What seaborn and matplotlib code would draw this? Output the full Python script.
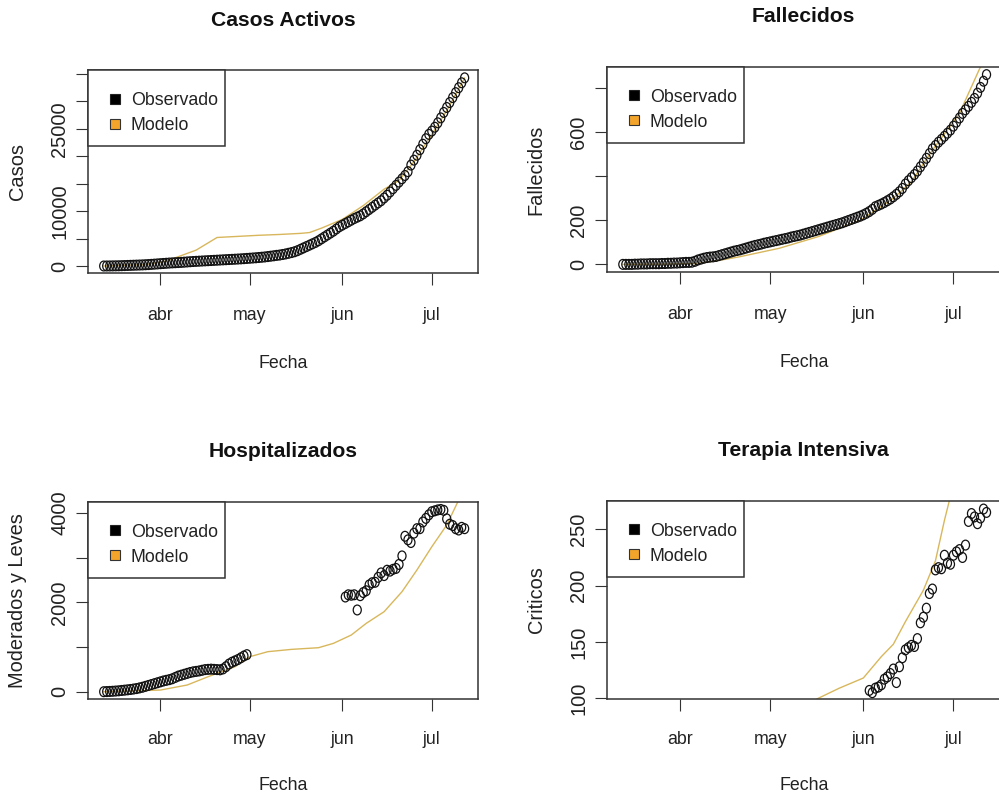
import matplotlib
matplotlib.use("Agg")
import numpy as np
import pandas as pd
import matplotlib.pyplot as plt
import seaborn as sns
from matplotlib.path import Path
from matplotlib.transforms import Affine2D
from matplotlib.patches import Patch, Rectangle

# ---------------- data ----------------
obs_start, obs_end = "2020-03-13", "2020-07-12"
month_ticks = ["2020-04-01", "2020-05-01", "2020-06-01", "2020-07-01"]
month_labels = ["abr", "may", "jun", "jul"]
legend_labels = ["Observado", "Modelo"]

casos_obs = [
    0, 5, 10, 20, 30, 40, 60, 80,
    100, 120, 140, 160, 180, 200, 230, 260, 300, 340, 380,
    420, 460, 500, 540, 570, 600, 630, 660, 700, 740,
    780, 820, 850, 880, 910, 940, 970, 1000, 1030, 1060,
    1090, 1120, 1150, 1180, 1210, 1240, 1270, 1300, 1340, 1380,
    1420, 1460, 1500, 1550, 1600, 1650, 1720, 1790, 1860, 1940,
    2000, 2100, 2200, 2320, 2450, 2600, 2800, 3050, 3300, 3550,
    3800, 4050, 4300, 4600, 4950, 5300, 5650, 6000, 6350, 6750, 7150,
    7450, 7750, 8050, 8350, 8650, 8900, 9150, 9500, 9900, 10300,
    10700, 11100, 11500, 11900, 12400, 12900, 13500, 14100, 14700, 15300,
    15900, 16500, 17200, 18400, 19300, 20200, 21200, 22200, 23200, 24000,
    24600, 25300, 26100, 27000, 28000, 28900, 29800, 30700, 31600, 32500, 33400, 34300,
]
casos_mod_dates = ["2020-03-13", "2020-03-27", "2020-04-03", "2020-04-06", "2020-04-13",
                   "2020-04-20", "2020-04-27", "2020-05-04", "2020-05-11", "2020-05-18",
                   "2020-05-21", "2020-05-25", "2020-06-01", "2020-06-08", "2020-06-15",
                   "2020-06-20", "2020-06-25", "2020-07-01", "2020-07-06", "2020-07-12"]
casos_mod = [0, 250, 900, 1500, 2900, 5200, 5400, 5600, 5750, 5950,
             6100, 6900, 8500, 11000, 14000, 15600, 19000, 24000, 28300, 34300]

fall_obs = [
    0, 0, 0, 0, 1, 1, 2, 2,
    2, 3, 3, 3, 3, 4, 4, 5, 5, 6, 6,
    7, 8, 9, 9, 10, 14, 20, 24, 28, 31,
    33, 34, 36, 40, 44, 48, 52, 56, 60, 63,
    66, 70, 74, 78, 82, 86, 89, 92, 96, 99,
    102, 105, 108, 111, 114, 117, 120, 124, 127, 130,
    133, 137, 141, 145, 149, 153, 157, 161, 165, 169,
    173, 177, 181, 185, 189, 194, 199, 204, 209, 214, 219,
    225, 232, 240, 250, 262, 268, 274, 281, 289, 297,
    307, 318, 330, 345, 365, 380, 394, 408, 424, 443,
    462, 482, 503, 525, 540, 555, 568, 582, 596, 610,
    628, 646, 665, 686, 702, 718, 736, 754, 778, 804, 832, 862,
]
fall_mod_dates = ["2020-03-13", "2020-03-27", "2020-04-07", "2020-04-14", "2020-04-21",
                  "2020-05-04", "2020-05-17", "2020-05-31", "2020-06-05", "2020-06-11",
                  "2020-06-17", "2020-06-24", "2020-07-03", "2020-07-10", "2020-07-12"]
fall_mod = [0, 1, 4, 18, 35, 73, 126, 201, 245, 300, 375, 519, 686, 898, 960]

hosp_start1, hosp_end1 = "2020-03-13", "2020-04-30"
hosp_obs1 = [
    0, 3, 6, 10, 15, 20, 28, 35,
    42, 50, 60, 70, 85, 100, 120, 140, 160, 180, 200,
    220, 240, 255, 270, 290, 320, 350, 370, 390, 410,
    430, 445, 455, 465, 480, 495, 500, 505, 500, 495,
    490, 510, 560, 620, 660, 690, 720, 760, 800, 830,
]
hosp_start2, hosp_end2 = "2020-06-02", "2020-07-12"
hosp_obs2 = [
    2120, 2170, 2160, 2170, 1830, 2150, 2220, 2260, 2390, 2440,
    2450, 2560, 2660, 2600, 2720, 2700, 2740, 2760, 2850, 3040,
    3480, 3400, 3340, 3550, 3650, 3650, 3800, 3880, 3960, 4030,
    4050, 4070, 4080, 4060, 3870, 3750, 3720, 3650, 3620, 3680, 3650,
]
hosp_mod_dates = ["2020-03-13", "2020-04-01", "2020-04-10", "2020-04-17", "2020-04-26",
                  "2020-05-01", "2020-05-07", "2020-05-15", "2020-05-24", "2020-05-29",
                  "2020-06-04", "2020-06-09", "2020-06-15", "2020-06-21", "2020-06-26",
                  "2020-07-01", "2020-07-06", "2020-07-10", "2020-07-12"]
hosp_mod = [0, 37, 150, 336, 560, 784, 896, 948, 985, 1082,
            1269, 1530, 1791, 2239, 2724, 3246, 3731, 4291, 4600]

uci_start, uci_end = "2020-06-03", "2020-07-12"
uci_obs = [
    107, 105, 109, 110, 112, 117, 119, 122, 126, 114,
    128, 136, 143, 145, 147, 146, 153, 167, 172, 180,
    193, 197, 214, 216, 215, 227, 220, 219, 227, 230,
    232, 225, 236, 257, 264, 261, 255, 260, 268, 265,
]
uci_mod_dates = ["2020-05-10", "2020-05-17", "2020-05-24", "2020-06-01", "2020-06-07",
                 "2020-06-11", "2020-06-15", "2020-06-21", "2020-06-25", "2020-06-28",
                 "2020-07-01", "2020-07-04"]
uci_mod = [90, 100, 109, 118, 137, 148, 168, 196, 222, 258, 290, 330]

# ---------------- style ----------------
sns.set_theme(style="white")
REG = ["Liberation Sans", "DejaVu Sans"]
plt.rcParams["font.family"] = REG
TXT = "#222222"
SPINE = "#333333"
LINE_C = "#D8B75C"
ORANGE = "#F2A52A"
FS_H = 12.8     # horizontal text
FS_V = 14.4     # rotated (vertical) text
FS_T = 15.2     # titles

W, H = 999, 800
fig = plt.figure(figsize=(W / 100, H / 100), dpi=100)
fig.patch.set_facecolor("white")

ell = Affine2D().scale(0.82, 1.0).transform_path(Path.unit_circle())
xlim = (pd.Timestamp("2020-03-07 20:00"), pd.Timestamp("2020-07-16 14:00"))


def panel(rect, title, ylabel, ox, oy, mx, my, ylim, yticks, ylabs,
          xpad=16.0, xlab_off=90):
    l, t, r, b = rect
    wpx, hpx = r - l, b - t
    ax = fig.add_axes([l / W, 1 - b / H, wpx / W, hpx / H])
    sns.lineplot(x=mx, y=my, ax=ax, color=LINE_C, lw=1.0, legend=False,
                 sort=False, estimator=None, zorder=2)
    sns.scatterplot(x=ox, y=oy, ax=ax, marker=ell, s=50, legend=False, zorder=3)
    coll = ax.collections[-1]
    coll.set_facecolor("none")
    coll.set_edgecolor("#111111")
    coll.set_linewidth(0.9)

    ax.set_xlim(*xlim)
    ax.set_ylim(*ylim)
    ax.set_xticks(pd.to_datetime(month_ticks))
    ax.set_xticklabels(month_labels, fontsize=FS_H, color=TXT)
    ax.set_yticks(yticks)
    ax.set_yticklabels(ylabs, fontsize=FS_V, color=TXT, rotation=90, va="center")
    ax.tick_params(axis="x", direction="out", length=8.6, width=0.8, color=SPINE,
                   pad=xpad, bottom=True, top=False)
    ax.tick_params(axis="y", direction="out", length=8.6, width=0.8, color=SPINE,
                   pad=5.2, left=True, right=False)
    for s in ax.spines.values():
        s.set_visible(True)
        s.set_color(SPINE)
        s.set_linewidth(1.1)
    ax.set_facecolor("white")
    ax.grid(False)

    ax.set_title(title, fontsize=FS_T, fontweight="bold",
                 color="#111111", y=1 + 50 / hpx, va="center", pad=0)
    ax.set_xlabel("Fecha", fontsize=FS_H, color=TXT, va="center")
    ax.xaxis.set_label_coords(0.5, -xlab_off / hpx)
    ax.set_ylabel(ylabel, fontsize=FS_V, color=TXT, va="center")
    ax.yaxis.set_label_coords(-71 / wpx, 0.5)

    # legend box (R style, anchored to top-left corner)
    ax.add_patch(Rectangle((0, 1 - 76 / hpx), 137 / wpx, 76 / hpx,
                           transform=ax.transAxes, facecolor="white",
                           edgecolor=SPINE, lw=1.1, zorder=4, clip_on=False))
    handles = [Patch(facecolor="black", edgecolor="#222222", lw=0.8),
               Patch(facecolor=ORANGE, edgecolor="#333333", lw=0.8)]
    fs_px = FS_H * 100 / 72
    leg = ax.legend(handles, legend_labels, loc="upper left",
                    bbox_to_anchor=(21.5 / wpx, 1 - 22 / hpx),
                    bbox_transform=ax.transAxes, frameon=False, borderpad=0,
                    borderaxespad=0, handlelength=10 / fs_px, handleheight=0.49,
                    handletextpad=0.62, labelspacing=0.45,
                    prop={"size": FS_H})
    for tx in leg.get_texts():
        tx.set_color(TXT)
    leg.set_zorder(5)
    return ax


d_obs = pd.date_range(obs_start, obs_end, freq="D")
d_h = pd.date_range(hosp_start1, hosp_end1, freq="D").append(
    pd.date_range(hosp_start2, hosp_end2, freq="D"))
d_u = pd.date_range(uci_start, uci_end, freq="D")

panel((88.3, 70.0, 478.3, 273.3), "Casos Activos", "Casos",
      d_obs, casos_obs, pd.to_datetime(casos_mod_dates), casos_mod,
      (-1330, 35730), list(range(0, 35001, 5000)),
      ["0", "", "10000", "", "", "25000", "", ""])
panel((607.3, 66.7, 1000.3, 272.3), "Fallecidos", "Fallecidos",
      d_obs, fall_obs, pd.to_datetime(fall_mod_dates), fall_mod,
      (-36, 898), [0, 200, 400, 600, 800], ["0", "200", "", "600", ""])
panel((88.3, 501.7, 478.3, 699.3), "Hospitalizados", "Moderados y Leves",
      d_h, hosp_obs1 + hosp_obs2, pd.to_datetime(hosp_mod_dates), hosp_mod,
      (-170, 4254), [0, 1000, 2000, 3000, 4000], ["0", "", "2000", "", "4000"],
      xpad=14.2, xlab_off=86)
panel((607.3, 500.7, 1000.3, 699.0), "Terapia Intensiva", "Criticos",
      d_u, uci_obs, pd.to_datetime(uci_mod_dates), uci_mod,
      (99.4, 275.4), [100, 150, 200, 250], ["100", "150", "200", "250"],
      xpad=14.2, xlab_off=86)

fig.savefig("out.png", dpi=100, facecolor="white")
